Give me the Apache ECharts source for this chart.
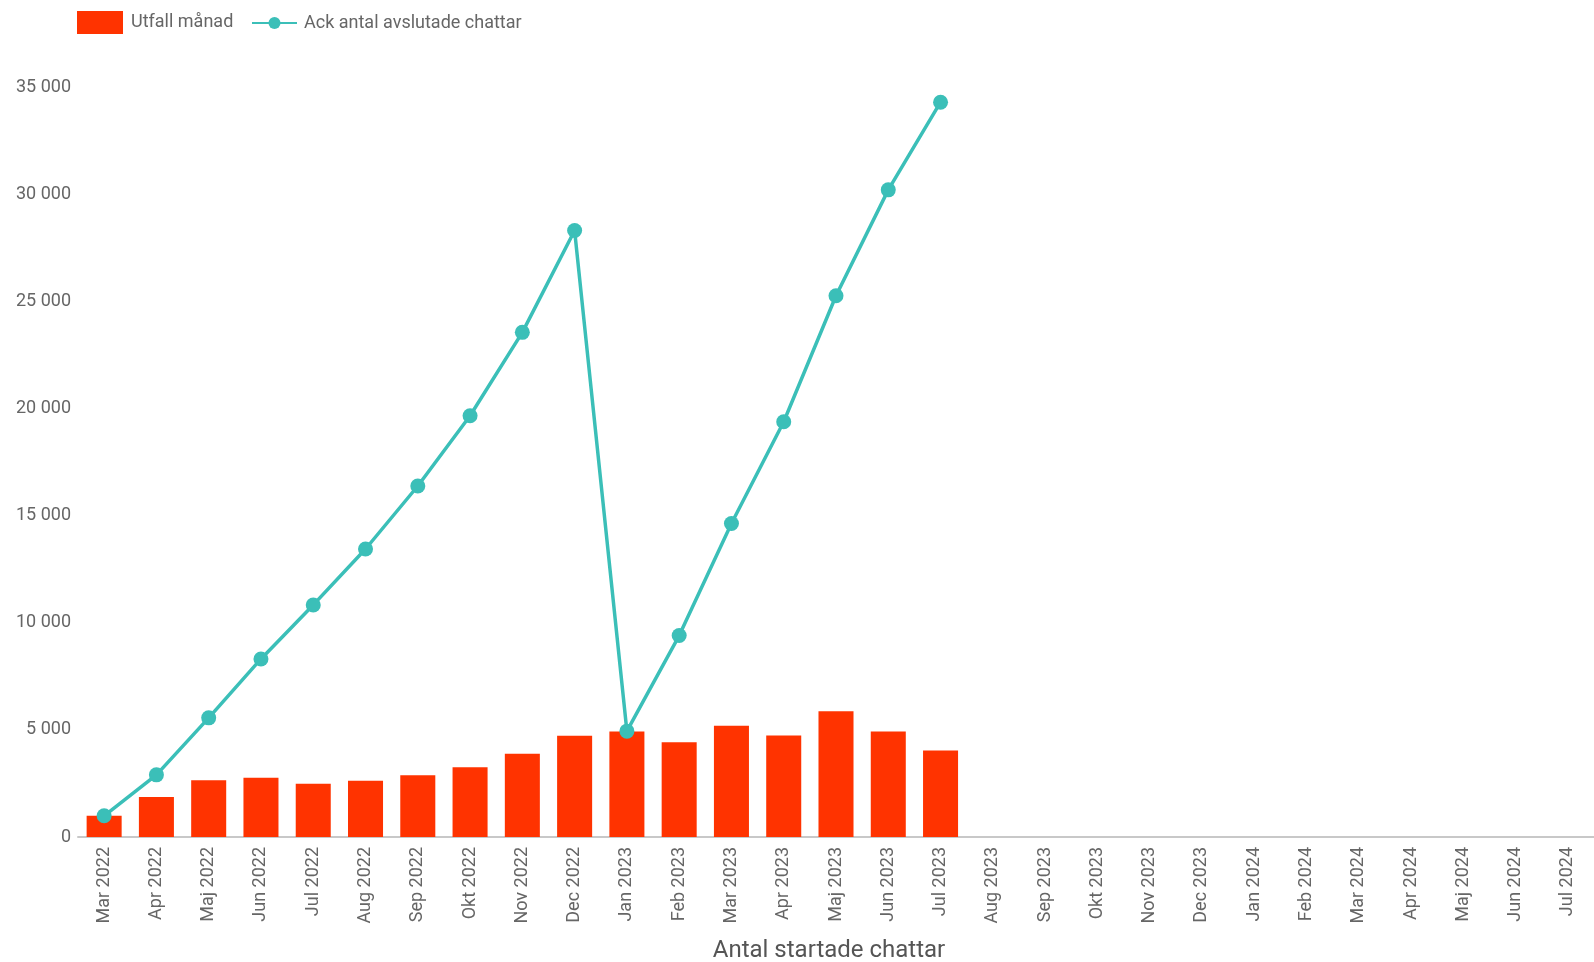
<!DOCTYPE html>
<html><head><meta charset="utf-8">
<script src="https://cdn.jsdelivr.net/npm/echarts@6/dist/echarts.min.js"></script>
<style>html,body{margin:0;padding:0;background:#fff}#c{width:1594px;height:962px}</style>
</head><body><div id="c"></div>
<script>
const categories = ["Mar 2022","Apr 2022","Maj 2022","Jun 2022","Jul 2022","Aug 2022","Sep 2022","Okt 2022","Nov 2022","Dec 2022",
"Jan 2023","Feb 2023","Mar 2023","Apr 2023","Maj 2023","Jun 2023","Jul 2023","Aug 2023","Sep 2023","Okt 2023","Nov 2023","Dec 2023",
"Jan 2024","Feb 2024","Mar 2024","Apr 2024","Maj 2024","Jun 2024","Jul 2024"];
const utfallManad = [990,1870,2650,2760,2490,2630,2880,3260,3880,4720,4925,4425,5190,4740,5870,4925,4040];
const ackAvslutade = [990,2900,5560,8310,10830,13440,16380,19660,23550,28300,4940,9400,14630,19380,25260,30200,34290];
const yTicks = {min:0,max:35000,interval:5000};
const xTitle = 'Antal startade chattar';

const chart = echarts.init(document.getElementById('c'), null, {renderer:'canvas'});
const fmt = v => String(v).replace(/\B(?=(\d{3})+(?!\d))/g,' ');
chart.setOption({
  animation:false,
  textStyle:{fontFamily:'Roboto'},
  legend:[{
    left:77, top:11, padding:0, itemWidth:46, itemHeight:23,
    textStyle:{fontSize:18,color:'#666',fontFamily:'Roboto',padding:[0,0,0,3]},
    data:[{name:'Utfall månad', icon:'rect'}]
  },{
    left:251, top:14, padding:0, itemWidth:45, itemHeight:15,
    textStyle:{fontSize:18,color:'#666',fontFamily:'Roboto',padding:[0,0,0,2]},
    data:[{name:'Ack antal avslutade chattar'}]
  }],
  grid:{left:78, right:-16, top:87, bottom:125, containLabel:false},
  graphic:[{type:'text', x:829, y:951,
    style:{text:xTitle, fontSize:24, fill:'#555', fontFamily:'Roboto', textAlign:'center', textVerticalAlign:'middle'}}],
  xAxis:{
    type:'category', data:categories,
    axisLine:{lineStyle:{color:'#c8c8c8',width:2}},
    axisTick:{show:false},
    axisLabel:{rotate:90,interval:0,fontSize:18,color:'#666',margin:10,fontFamily:'Roboto'}
  },
  yAxis:{
    type:'value', min:yTicks.min, max:yTicks.max, interval:yTicks.interval,
    splitLine:{show:false}, axisLine:{show:false}, axisTick:{show:false},
    axisLabel:{formatter:fmt,fontSize:18,color:'#666',margin:7,fontFamily:'Roboto'}
  },
  series:[
    {name:'Utfall månad', type:'bar', data:utfallManad, barCategoryGap:'33%',
     itemStyle:{color:'#ff3300'}},
    {name:'Ack antal avslutade chattar', type:'line', data:ackAvslutade,
     symbol:'circle', symbolSize:15, lineStyle:{color:'#3bbfb8',width:3.5},
     itemStyle:{color:'#3bbfb8'}}
  ]
});
</script></body></html>
